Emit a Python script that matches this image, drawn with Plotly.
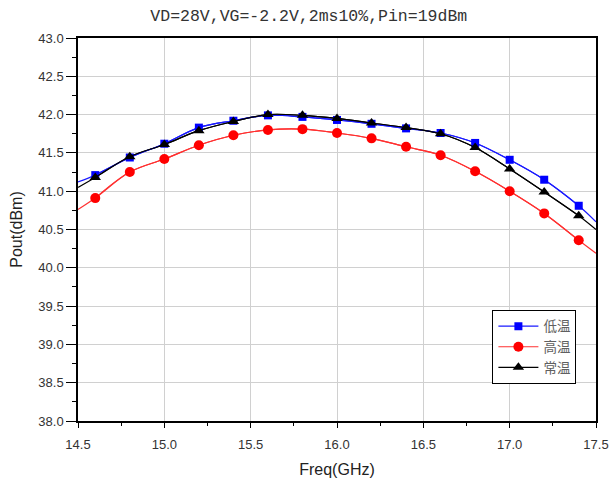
import plotly.graph_objects as go

freq = [14.5, 14.6, 14.8, 15.0, 15.2, 15.4, 15.6, 15.8, 16.0, 16.2, 16.4, 16.6, 16.8, 17.0, 17.2, 17.4, 17.5]
low_temp = [41.12, 41.21, 41.44, 41.62, 41.83, 41.92, 41.99, 41.97, 41.93, 41.88, 41.82, 41.76, 41.63, 41.41, 41.15, 40.81, 40.60]
high_temp = [40.76, 40.91, 41.25, 41.42, 41.60, 41.73, 41.80, 41.81, 41.76, 41.69, 41.58, 41.47, 41.26, 41.00, 40.71, 40.36, 40.19]
room_temp = [41.05, 41.18, 41.45, 41.61, 41.79, 41.91, 42.00, 41.99, 41.95, 41.89, 41.83, 41.75, 41.57, 41.29, 40.99, 40.68, 40.50]
names = ["低温", "高温", "常温"]

x_ticks = [14.5, 15.0, 15.5, 16.0, 16.5, 17.0, 17.5]
y_ticks = [38.0 + 0.5 * i for i in range(11)]

series = [
    (low_temp, names[0], "#1a1aff", "#0000ff", "square", 8),
    (high_temp, names[1], "#ff3030", "#ff0000", "circle", 10),
    (room_temp, names[2], "#000000", "#000000", "triangle-up", 10),
]

fig = go.Figure()
# full fitted curves (edge points without markers)
for vals, nm, lc, mc, sym, sz in series:
    fig.add_trace(go.Scatter(x=freq, y=vals, mode="lines", showlegend=False, hoverinfo="skip",
                             line=dict(color=lc, width=1.2, shape="spline")))
# measured points with markers
for vals, nm, lc, mc, sym, sz in series:
    fig.add_trace(go.Scatter(x=freq[1:-1], y=vals[1:-1], name=nm, mode="lines+markers",
                             line=dict(color=lc, width=1.2, shape="spline"),
                             marker=dict(symbol=sym, size=sz, color=mc, opacity=1)))

fig.update_layout(
    width=609, height=484,
    margin=dict(l=78, r=13, t=38, b=63, autoexpand=False),
    paper_bgcolor="white", plot_bgcolor="white",
    title=dict(text="VD=28V,VG=-2.2V,2ms10%,Pin=19dBm", x=0.507, xanchor="center",
               y=0.968, yanchor="middle", automargin=False,
               font=dict(family="Liberation Mono", size=16.5, color="#333333")),
    font=dict(family="Liberation Sans", color="#333333"),
    legend=dict(x=0.800, y=0.290, xanchor="left", yanchor="top",
                bgcolor="white", bordercolor="black", borderwidth=1,
                font=dict(family="Noto Sans CJK SC", size=13.5, color="#606060"),
                tracegroupgap=0, itemwidth=40),
    showlegend=True,
)
fig.update_xaxes(range=[14.5, 17.5], tickvals=x_ticks, ticktext=[f"{v:.1f}" for v in x_ticks],
                 showgrid=True, gridcolor="#d0d0d0", gridwidth=1, automargin=False,
                 showline=True, linecolor="black", linewidth=1.5, mirror=True,
                 ticks="outside", ticklen=5, tickcolor="black", ticklabelstandoff=6,
                 minor=dict(dtick=0.25, tick0=14.5, ticks="outside", ticklen=3, tickcolor="black", showgrid=False),
                 tickfont=dict(size=13, color="#333333"),
                 title=dict(text="Freq(GHz)", font=dict(size=16, color="#222222"), standoff=12),
                 zeroline=False)
fig.update_yaxes(range=[38.0, 43.0], tickvals=y_ticks, ticktext=[f"{v:.1f}" for v in y_ticks],
                 showgrid=True, gridcolor="#d0d0d0", gridwidth=1, automargin=False,
                 showline=True, linecolor="black", linewidth=1.5, mirror=True,
                 ticks="outside", ticklen=10, tickcolor="black",
                 minor=dict(dtick=0.25, tick0=38.0, ticks="outside", ticklen=4, tickcolor="black", showgrid=False),
                 tickfont=dict(size=13, color="#333333"),
                 title=dict(text="Pout(dBm)", font=dict(size=16, color="#222222"), standoff=12),
                 zeroline=False)

fig.write_html("out.html", config={"displayModeBar": False},
               post_script="document.body.style.margin='0';document.body.style.overflow='hidden';")
